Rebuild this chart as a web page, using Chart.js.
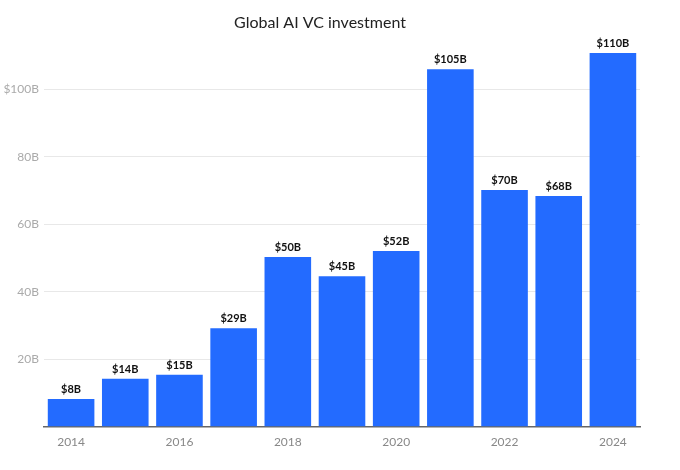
<!DOCTYPE html>
<html>
<head>
<meta charset="utf-8">
<script src="https://cdn.jsdelivr.net/npm/chart.js@4"></script>
<style>
  html, body { margin: 0; padding: 0; background: #fff; }
  #wrap { width: 680px; height: 470px; }
</style>
</head>
<body>
<div id="wrap"><canvas id="chart"></canvas></div>
<script>
// data
const years = ['2014', '2015', '2016', '2017', '2018', '2019', '2020', '2021', '2022', '2023', '2024'];
const investment = [8.2, 14.2, 15.4, 29.2, 50.3, 44.6, 52.1, 106, 70.2, 68.4, 110.8];
const valueLabels = ['$8B', '$14B', '$15B', '$29B', '$50B', '$45B', '$52B', '$105B', '$70B', '$68B', '$110B'];
const yTickLabels = { 20: '20B', 40: '40B', 60: '60B', 80: '80B', 100: '$100B' };

const FONT = 'Lato, "Open Sans", sans-serif';

// value labels above each bar
const barLabels = {
    id: 'barLabels',
    afterDatasetsDraw(chart) {
        const ctx = chart.ctx;
        const meta = chart.getDatasetMeta(0);
        ctx.save();
        ctx.font = 'bold 11px ' + FONT;
        ctx.fillStyle = '#111';
        ctx.textAlign = 'center';
        ctx.textBaseline = 'bottom';
        meta.data.forEach((bar, i) => {
            ctx.fillText(valueLabels[i], bar.x, bar.y - 4);
        });
        ctx.restore();
    }
};

new Chart(document.getElementById('chart'), {
    type: 'bar',
    data: {
        labels: years,
        datasets: [{
            data: investment,
            backgroundColor: '#236bff',
            borderWidth: 0,
            barPercentage: 0.86,
            categoryPercentage: 1.0
        }]
    },
    options: {
        responsive: true,
        maintainAspectRatio: false,
        animation: false,
        layout: { padding: { left: 0, right: 40, top: 11, bottom: 13 } },
        plugins: {
            legend: { display: false },
            tooltip: { enabled: false },
            title: {
                display: true,
                text: 'Global AI VC investment',
                color: '#222',
                font: { family: FONT, size: 16, weight: 'normal' },
                padding: { top: 2, bottom: 10 }
            }
        },
        scales: {
            x: {
                grid: { display: false, drawTicks: false },
                border: { display: true, color: '#666', width: 1.5 },
                ticks: {
                    autoSkip: false,
                    maxRotation: 0,
                    padding: 8,
                    color: '#888',
                    font: { family: FONT, size: 12 },
                    callback: function(value, index) {
                        return index % 2 === 0 ? years[index] : '';
                    }
                }
            },
            y: {
                min: 0,
                max: 114,
                afterFit: function(scale) { scale.width = 44; },
                grid: { color: '#e8e8e8', drawTicks: false, lineWidth: 1 },
                border: { display: false },
                ticks: {
                    stepSize: 20,
                    padding: 5,
                    color: '#aaa',
                    font: { family: FONT, size: 12 },
                    callback: function(value) {
                        return yTickLabels[value] || null;
                    }
                }
            }
        }
    },
    plugins: [barLabels]
});
</script>
</body>
</html>
